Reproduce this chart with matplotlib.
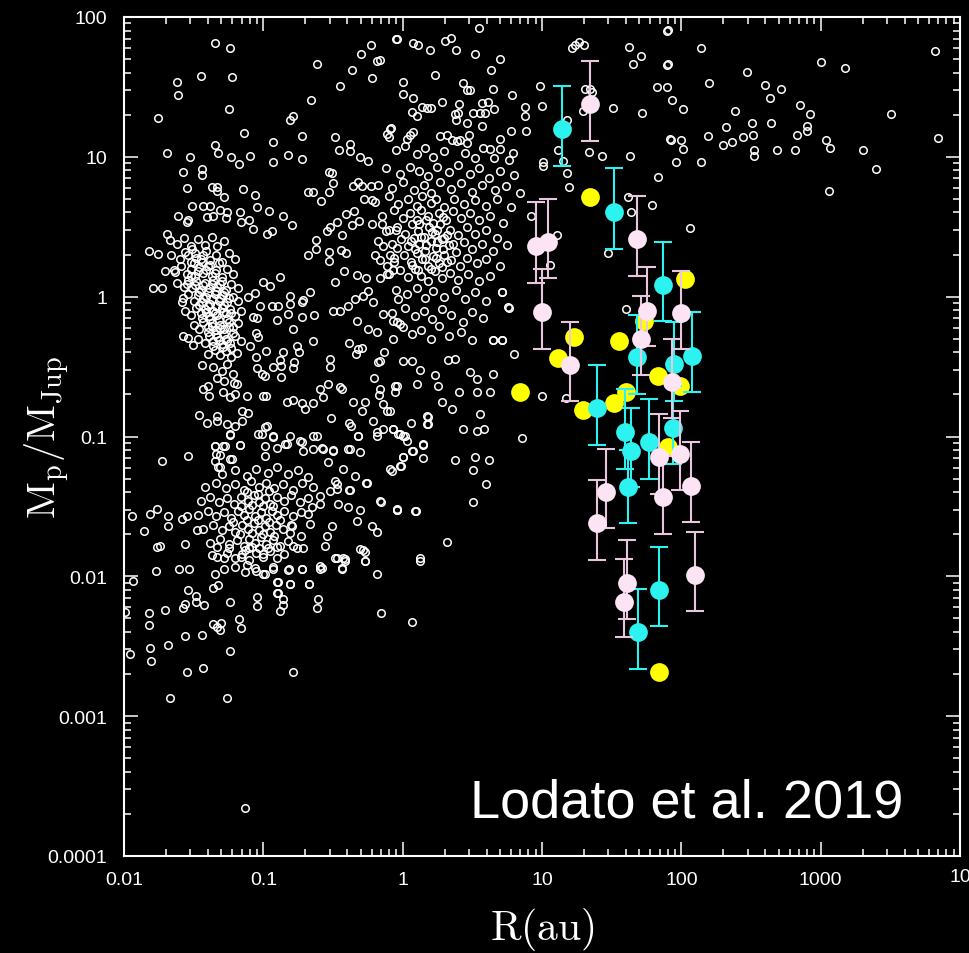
import numpy as np
import matplotlib
matplotlib.use('Agg')
import matplotlib.pyplot as plt
from matplotlib.ticker import LogLocator, NullFormatter, FixedLocator, FixedFormatter

plt.rcParams['font.family'] = ['Liberation Sans', 'DejaVu Sans']
plt.rcParams['mathtext.fontset'] = 'cm'

#%% known exoplanets, (log10 R/au, log10 Mp/MJup)

wide_orbits = [
    (-1.347, 1.812), (-1.239, 1.778), (-1.622, 1.537), (-1.610, 1.442), (-1.45, 1.58), (-1.227, 1.571),
    (-1.246, 1.344), (-1.754, 1.275), (-1.137, 1.168), (-1.347, 1.084), (-1.328, 1.027), (-1.694, 1.027),
    (-1.526, 0.996), (-1.231, 0.996), (-1.172, 0.95), (-1.096, 1.006), (-0.933, 1.104), (-0.933, 0.963),
    (-0.823, 1.013), (-0.725, 0.982), (-0.72, 1.151), (-0.81, 1.263), (-0.79, 1.294), (-0.66, 1.408),
    (-0.615, 1.662), (-0.447, 1.506), (-0.361, 1.623), (-0.301, 1.735), (-0.229, 1.802), (-0.186, 1.687),
    (-0.165, 1.69), (-0.218, 1.566), (-0.048, 1.843), (-0.483, 1.144), (-0.455, 1.049), (-0.378, 1.092),
    (-0.378, 1.044), (-0.306, 0.999), (-0.249, 0.97), (-0.115, 1.163), (-0.1, 1.14), (-0.086, 1.204),
    (0.55, 1.921), (-0.043, 1.843), (0.076, 1.812), (0.112, 1.802), (0.196, 1.764), (0.304, 1.826),
    (0.345, 1.848), (0.383, 1.762), (0.517, 1.735), (0.699, 1.70), (0.632, 1.621), (0.232, 1.585),
    (0.0, 1.537), (0.0, 1.449), (0.072, 1.423), (0.431, 1.528), (0.46, 1.478), (0.483, 1.478),
    (0.651, 1.485), (0.783, 1.442), (0.28, 1.39), (0.404, 1.378), (0.567, 1.385), (0.615, 1.39),
    (0.658, 1.342), (0.137, 1.354), (0.173, 1.349), (0.203, 1.347), (0.065, 1.318), (0.105, 1.294),
    (0.376, 1.306), (0.4, 1.313), (0.383, 1.263), (0.46, 1.24), (0.507, 1.313), (0.555, 1.313),
    (0.591, 1.313), (0.569, 1.222), (0.878, 1.354), (0.878, 1.294), (0.885, 1.187), (0.998, 1.361),
    (0.986, 1.509), (0.775, 1.187), (0.476, 1.156), (0.411, 1.122), (0.46, 1.096), (-0.091, 1.199),
    (0.029, 1.127), (0.053, 1.156), (0.076, 1.175), (0.268, 1.151), (0.32, 1.156), (0.352, 1.122),
    (0.388, 1.115), (0.699, 1.127), (0.627, 1.056), (0.699, 1.056), (0.658, 0.989), (0.794, 1.025),
    (1.237, 1.8), (1.268, 1.823), (1.304, 1.802), (1.213, 1.78), (1.309, 1.485), (1.345, 1.485),
    (1.357, 1.461), (1.297, 1.33), (1.507, 1.351), (1.622, 1.788), (1.708, 1.723), (1.651, 1.662),
    (1.895, 1.902), (1.895, 1.659), (1.823, 1.499), (1.716, 1.311), (1.177, 1.263), (1.117, 1.051),
    (1.153, 0.972), (1.177, 0.884), (1.196, 0.786), (1.005, 0.965), (1.01, 0.936), (1.34, 1.032),
    (1.431, 1.008), (1.632, 1.008), (1.83, 0.853), (1.619, 0.71), (1.637, 0.607), (1.792, 0.655),
    (1.476, 0.312), (1.058, 0.226), (1.11, 0.441), (0.919, 0.579), (1.919, 1.127),
    (1.904, 1.905), (2.139, 1.778), (1.904, 1.664), (1.9, 1.5), (2.2, 1.528), (1.933, 1.408),
    (2.01, 1.342), (2.474, 1.609), (2.601, 1.514), (2.713, 1.485), (2.636, 1.423), (2.386, 1.33),
    (2.32, 1.213), (2.505, 1.24), (2.644, 1.24), (2.852, 1.371), (2.924, 1.308), (2.9, 1.218),
    (2.905, 1.187), (3.0, 1.68), (3.175, 1.635), (1.924, 1.122), (2.0, 1.122), (2.01, 1.058),
    (2.193, 1.151), (2.301, 1.087), (2.361, 1.104), (2.44, 1.14), (2.517, 1.156), (2.522, 1.049),
    (2.522, 1.008), (2.684, 1.051), (2.816, 1.051), (2.828, 1.156), (3.036, 1.122), (3.067, 1.063),
    (3.301, 1.051), (3.397, 0.91), (3.058, 0.755), (3.505, 1.308), (3.823, 1.757), (3.84, 1.134),
    (1.962, 0.965), (2.143, 0.963), (2.06, 0.489),
]

hot_jupiters = [
    (-1.574, 0.889), (-1.442, 0.913), (-1.442, 0.872), (-1.545, 0.777), (-1.371, 0.782), (-1.335, 0.782),
    (-1.331, 0.753), (-1.282, 0.715), (-1.144, 0.77), (-1.06, 0.727), (-1.048, 0.639), (-0.959, 0.614),
    (-0.861, 0.579), (-0.792, 0.515), (-1.515, 0.65), (-1.61, 0.579), (-1.538, 0.55), (-1.55, 0.531),
    (-1.43, 0.645), (-1.383, 0.645), (-1.407, 0.567), (-1.359, 0.579), (-1.311, 0.62), (-1.263, 0.604),
    (-1.268, 0.561), (-1.167, 0.603), (-1.162, 0.536), (-1.101, 0.545), (-1.072, 0.483), (-0.976, 0.448),
    (-0.94, 0.471), (-1.694, 0.448), (-1.67, 0.405), (-1.818, 0.324), (-1.754, 0.305), (-1.706, 0.185),
    (-1.634, 0.174), (-1.79, 0.059), (-1.73, 0.059), (-1.586, -0.041),
    (-1.62, 0.38), (-1.57, 0.42), (-1.52, 0.36), (-1.47, 0.41), (-1.42, 0.37), (-1.37, 0.43), (-1.33, 0.36),
    (-1.28, 0.4), (-1.66, 0.3), (-1.6, 0.27), (-1.56, 0.32), (-1.52, 0.25), (-1.49, 0.31), (-1.45, 0.27),
    (-1.41, 0.33), (-1.38, 0.26), (-1.34, 0.3), (-1.3, 0.25), (-1.25, 0.31), (-1.2, 0.27), (-1.64, 0.19),
    (-1.59, 0.22), (-1.55, 0.16), (-1.52, 0.2), (-1.49, 0.15), (-1.46, 0.21), (-1.43, 0.17), (-1.4, 0.22),
    (-1.37, 0.15), (-1.34, 0.19), (-1.3, 0.14), (-1.26, 0.2), (-1.22, 0.16), (-1.62, 0.1), (-1.57, 0.07),
    (-1.54, 0.12), (-1.51, 0.06), (-1.48, 0.11), (-1.45, 0.05), (-1.42, 0.1), (-1.39, 0.06), (-1.36, 0.12),
    (-1.33, 0.07), (-1.3, 0.11), (-1.27, 0.05), (-1.23, 0.09), (-1.18, 0.06), (-1.58, -0.01), (-1.54, 0.02),
    (-1.5, -0.03), (-1.47, 0.01), (-1.44, -0.04), (-1.41, 0.0), (-1.38, -0.05), (-1.35, 0.02), (-1.32, -0.03),
    (-1.29, 0.01), (-1.26, -0.04), (-1.22, 0.0), (-1.18, -0.03), (-1.56, -0.1), (-1.52, -0.13), (-1.48, -0.08),
    (-1.45, -0.12), (-1.42, -0.09), (-1.39, -0.14), (-1.36, -0.1), (-1.33, -0.13), (-1.3, -0.08), (-1.27, -0.12),
    (-1.24, -0.09), (-1.2, -0.14), (-1.16, -0.1), (-1.5, -0.2), (-1.46, -0.23), (-1.43, -0.18), (-1.4, -0.22),
    (-1.37, -0.19), (-1.34, -0.24), (-1.31, -0.2), (-1.28, -0.23), (-1.25, -0.18), (-1.22, -0.22), (-1.18, -0.19),
    (-1.47, -0.3), (-1.42, -0.33), (-1.39, -0.28), (-1.36, -0.32), (-1.33, -0.29), (-1.3, -0.34), (-1.27, -0.3),
    (-1.24, -0.33), (-1.2, -0.28), (-1.16, -0.32), (-1.4, -0.41), (-1.35, -0.38), (-1.31, -0.42), (-1.27, -0.39),
    (-1.23, -0.43), (-1.19, -0.4), (-1.36, -0.5), (-1.3, -0.53), (-1.26, -0.48), (-1.22, -0.55), (-1.33, -0.58),
    (-1.28, -0.6), (-1.21, -0.62), (-1.574, -0.284), (-1.538, -0.298), (-1.503, -0.346), (-1.442, -0.489),
    (-1.43, -0.661), (-1.388, -0.709), (-1.395, -0.637), (-1.287, -0.685), (-1.239, -0.72), (-1.203, -0.697),
    (-1.191, -0.625), (-1.119, -0.713),
]

# the white blob of hot Jupiters, where circles pile on each other
hot_jupiter_core = [
    (-1.5, 0.24), (-1.47, 0.18), (-1.44, 0.25), (-1.41, 0.19), (-1.38, 0.23), (-1.35, 0.17), (-1.32, 0.24),
    (-1.49, 0.08), (-1.46, 0.03), (-1.43, 0.08), (-1.4, 0.03), (-1.37, 0.09), (-1.34, 0.04), (-1.31, 0.09),
    (-1.28, 0.03), (-1.46, -0.06), (-1.43, -0.01), (-1.4, -0.07), (-1.37, -0.02), (-1.34, -0.07), (-1.31, -0.01),
    (-1.28, -0.06), (-1.25, -0.01), (-1.44, -0.15), (-1.41, -0.11), (-1.38, -0.16), (-1.35, -0.12), (-1.32, -0.17),
    (-1.29, -0.11), (-1.26, -0.16), (-1.23, -0.12), (-1.4, -0.25), (-1.37, -0.21), (-1.34, -0.27), (-1.31, -0.23),
    (-1.28, -0.27), (-1.25, -0.22), (-1.22, -0.26), (-1.36, -0.35), (-1.32, -0.31), (-1.29, -0.36), (-1.26, -0.32),
    (-1.23, -0.37), (-1.54, 0.3), (-1.51, 0.34), (-1.48, 0.28), (-1.43, 0.3), (-1.55, 0.09), (-1.52, 0.15),
]

intermediate = [
    (-0.88, 0.138), (-1.0, 0.102), (-0.682, 0.297), (-0.624, 0.407), (-0.624, 0.34), (-0.529, 0.317),
    (-0.529, 0.257), (-0.545, 0.471), (-0.522, 0.496), (-0.473, 0.531), (-0.433, 0.441), (-0.409, 0.591),
    (-0.349, 0.61), (-0.443, 0.335), (-0.409, 0.309), (-0.311, 0.543), (-0.364, 0.512), (-0.356, 0.79),
    (-0.32, 0.82), (-0.29, 0.79), (-0.23, 0.79), (-0.28, 0.7), (-0.22, 0.69), (-0.527, 0.889), (-0.51, 0.884),
    (-0.498, 0.81), (-0.527, 0.746), (-0.586, 0.682), (-0.677, 0.746), (-0.641, 0.746), (-0.419, 0.181),
    (-0.33, 0.157), (-0.263, 0.131), (-0.163, 0.131), (-0.115, 0.162), (-0.072, 0.192), (-0.486, 0.102),
    (-0.22, 0.52), (-0.15, 0.52), (-0.1, 0.48), (-0.05, 0.48), (-0.18, 0.4), (-0.14, 0.36), (-0.09, 0.3),
    (-0.16, 0.26), (-0.11, 0.22), (-0.2, 0.3), (-0.04, 0.35), (-0.06, 0.25),
    (-1.462, -0.847), (-1.402, -0.906), (-1.335, -0.852), (-1.335, -0.888), (-1.263, -0.911), (-1.203, -0.923),
    (-1.155, -0.888), (-1.108, -0.835), (-1.239, -0.983), (-1.155, -0.816), (-1.048, -0.513), (-1.012, -0.553),
    (-0.988, -0.57), (-1.0, -0.709), (-0.981, -0.713), (-1.053, -0.43), (-0.983, -0.387), (-0.933, -0.501),
    (-0.871, -0.499), (-0.88, -0.454), (-0.857, -0.394), (-0.873, -0.577), (-0.79, -0.513), (-0.78, -0.466),
    (-0.76, -0.351), (-0.744, -0.394), (-1.096, -0.351), (-1.053, -0.26), (-1.036, -0.291), (-0.641, -0.315),
    (-1.024, -0.065), (-0.94, -0.065), (-0.892, -0.065), (-0.809, -0.053), (-0.809, 0.006), (-0.725, -0.036),
    (-0.713, -0.022), (-0.665, 0.031), (-1.108, -0.005), (-1.06, 0.026), (-0.952, 0.078), (-0.904, -0.165),
    (-0.821, -0.124), (-0.785, -0.232), (-0.725, -0.144), (-0.634, -0.132), (-1.072, -0.148), (-1.048, -0.155),
    (-0.498, -0.101), (-0.45, -0.105), (-0.39, -0.065), (-0.33, -0.172), (-0.342, -0.017), (-0.282, 0.006),
    (-0.247, 0.042), (-0.211, -0.041), (-0.139, -0.124), (-0.247, -0.232), (-0.186, -0.256), (-0.067, -0.303),
    (-0.043, -0.184), (-0.031, -0.017), (-0.383, -0.332), (-0.318, -0.375), (-0.294, -0.37), (-0.335, -0.411),
    (-0.163, -0.458), (-0.175, -0.47), (-0.132, -0.398), (-0.522, -0.446), (-0.522, -0.506), (-0.45, -0.649),
    (-0.438, -0.661), (-0.206, -0.585), (-0.163, -0.661), (-0.055, -0.637), (-0.168, -0.704), (-0.139, -0.768),
    (-0.115, -0.816), (-0.055, -0.685), (-0.832, -0.756), (-0.785, -0.738), (-0.725, -0.761), (-0.701, -0.804),
    (-0.641, -0.761), (-0.57, -0.72), (-0.593, -0.661), (-0.534, -0.625), (-0.359, -0.756), (-0.27, -0.756),
    (-0.294, -0.816), (-0.514, -0.871), (-0.383, -0.904), (-0.373, -0.928), (-0.318, -0.995), (-0.215, -0.888),
    (-0.186, -0.995), (-0.139, -0.947), (-0.067, -0.947), (-0.031, -0.983),
]

cold_giants = [
    (-0.05, 1.05), (0.02, 1.08), (0.1, 1.02), (0.16, 1.06), (0.22, 1.0), (0.3, 1.04), (0.45, 1.03), (0.52, 0.99),
    (0.58, 1.06), (0.76, 0.98), (-0.12, 0.92), (-0.02, 0.88), (0.05, 0.93), (0.12, 0.9), (0.18, 0.86), (0.25, 0.93),
    (0.33, 0.89), (0.4, 0.94), (0.48, 0.88), (0.55, 0.92), (0.62, 0.85), (0.7, 0.9), (0.8, 0.87), (-0.18, 0.8),
    (-0.08, 0.78), (0.0, 0.82), (0.08, 0.76), (0.15, 0.8), (0.2, 0.74), (0.27, 0.82), (0.35, 0.77), (0.42, 0.81),
    (0.5, 0.75), (0.57, 0.8), (0.66, 0.76), (0.74, 0.79), (0.84, 0.74), (-0.2, 0.68), (-0.1, 0.72), (-0.03, 0.66),
    (0.04, 0.7), (0.1, 0.65), (0.14, 0.72), (0.2, 0.67), (0.24, 0.7), (0.3, 0.64), (0.37, 0.7), (0.44, 0.66),
    (0.52, 0.69), (0.6, 0.65), (0.68, 0.7), (0.78, 0.64), (-0.15, 0.58), (-0.06, 0.62), (0.0, 0.56), (0.05, 0.6),
    (0.1, 0.55), (0.13, 0.62), (0.18, 0.58), (0.22, 0.53), (0.26, 0.6), (0.31, 0.55), (0.36, 0.61), (0.42, 0.56),
    (0.48, 0.6), (0.55, 0.55), (0.63, 0.58), (0.72, 0.53), (-0.12, 0.47), (-0.04, 0.5), (0.02, 0.45), (0.07, 0.52),
    (0.11, 0.47), (0.15, 0.43), (0.19, 0.5), (0.23, 0.45), (0.27, 0.52), (0.3, 0.42), (0.34, 0.48), (0.4, 0.44),
    (0.46, 0.5), (0.52, 0.45), (0.6, 0.48), (0.68, 0.42), (-0.08, 0.38), (-0.01, 0.41), (0.04, 0.36), (0.08, 0.42),
    (0.12, 0.38), (0.16, 0.33), (0.2, 0.4), (0.24, 0.35), (0.28, 0.41), (0.33, 0.37), (0.38, 0.32), (0.44, 0.39),
    (0.5, 0.34), (0.57, 0.38), (0.65, 0.33), (0.75, 0.37), (-0.06, 0.28), (0.01, 0.3), (0.06, 0.25), (0.1, 0.31),
    (0.14, 0.27), (0.18, 0.22), (0.22, 0.29), (0.26, 0.24), (0.3, 0.3), (0.35, 0.26), (0.41, 0.22), (0.46, 0.28),
    (0.53, 0.24), (0.6, 0.27), (0.7, 0.22), (-0.1, 0.16), (-0.02, 0.19), (0.04, 0.14), (0.09, 0.2), (0.13, 0.15),
    (0.18, 0.11), (0.23, 0.18), (0.28, 0.13), (0.34, 0.17), (0.4, 0.12), (0.47, 0.16), (0.55, 0.11), (0.63, 0.15),
    (-0.05, 0.05), (0.03, 0.02), (0.1, 0.06), (0.16, -0.01), (0.22, 0.04), (0.3, 0.0), (0.38, 0.05), (0.45, -0.02),
    (0.52, 0.03), (0.6, -0.03), (0.71, 0.035), (0.76, -0.08), (-0.08, -0.12), (0.02, -0.08), (0.09, -0.14),
    (0.15, -0.1), (0.21, -0.16), (0.28, -0.09), (0.35, -0.13), (0.43, -0.18), (0.5, -0.11), (0.58, -0.15),
    (0.0, -0.22), (0.07, -0.27), (0.13, -0.24), (0.2, -0.3), (0.26, -0.21), (0.33, -0.28), (0.42, -0.25),
    (0.5, -0.31), (0.65, -0.31), (0.71, -0.31),
    (0.06, 0.4), (0.09, 0.34), (0.13, 0.43), (0.17, 0.37), (0.21, 0.46), (0.25, 0.39), (0.29, 0.34),
    (0.32, 0.44), (0.36, 0.38), (0.07, 0.23), (0.11, 0.19), (0.16, 0.27), (0.2, 0.2), (0.24, 0.28),
    (0.28, 0.21), (0.32, 0.25), (0.12, 0.52), (0.17, 0.55), (0.25, 0.48), (0.29, 0.57),
    (0.801, -0.411), (0.998, -0.709), (0.855, -1.014), (1.172, -0.728), (1.603, -0.089), (0.431, -0.947),
    (0.536, -0.959), (0.584, -0.947), (0.555, -0.84), (0.376, -1.169), (0.519, -1.145), (0.622, -1.169),
    (0.503, -1.238), (0.598, -1.338), (0.503, -1.471), (0.32, -1.757), (-0.039, -1.524), (0.094, -1.534),
    (0.124, -1.872), (0.06, -0.904), (0.184, -0.864), (0.184, -0.911), (0.017, -0.995), (-0.019, -0.983),
    (0.148, -1.059), (0.072, -1.102), (0.148, -1.156), (0.004, -1.145), (-0.012, -1.21), (-0.079, -1.245),
    (-0.091, -0.816), (-0.067, -0.947), (0.407, -0.685), (0.256, -0.637), (-0.043, -0.637), (0.1, -0.625),
    (0.232, -0.559), (0.327, -0.454), (0.376, -0.446), (0.483, -0.542), (0.531, -0.589), (0.651, -0.553),
    (0.627, -0.685), (0.531, -0.685), (0.28, -0.756), (0.352, -0.804), (0.173, -0.852), (0.065, -0.458),
    (0.124, -0.522), (0.004, -0.458), (-0.067, -0.172), (-0.019, -0.196), (0.758, -0.077), (0.711, 0.035),
    (0.651, -0.308), (0.711, -0.308),
]

super_earths = [
    (-1.725, -1.174), (-1.543, -1.142), (-1.94, -1.567), (-1.854, -1.675), (-1.813, -1.555), (-1.765, -1.519),
    (-1.682, -1.572), (-1.682, -1.643), (-1.586, -1.591), (-1.55, -1.572), (-1.474, -1.667), (-1.562, -1.769),
    (-1.765, -1.793), (-1.742, -1.782), (-1.239, -0.99), (-1.167, -1.062), (-1.347, -1.067), (-1.287, -1.067),
    (-1.311, -1.133), (-1.347, -1.174), (-1.323, -1.217), (-1.239, -1.162),
    (-1.036, -0.983), (-0.976, -0.923), (-0.928, -1.002), (-0.832, -1.054), (-0.725, -1.038), (-0.641, -0.995),
    (-0.57, -1.09), (-0.498, -1.095), (-0.378, -1.09), (-0.318, -0.995), (-0.258, -1.329), (-0.378, -1.384),
    (-0.473, -1.341), (-0.163, -1.46), (-0.043, -1.519),
    (-0.581, -1.937), (-0.593, -1.925), (-0.473, -1.872), (-0.426, -1.872), (-0.414, -1.889), (-0.438, -1.944),
    (-0.282, -1.813), (-0.27, -1.889), (-0.27, -1.829), (-0.306, -1.806), (-0.673, -2.056), (-0.809, -2.056),
    (-0.892, -2.116), (-0.904, -2.044), (-0.821, -1.956), (-0.725, -1.948), (-0.557, -1.782), (-0.545, -1.71),
    (-0.509, -1.643), (-0.713, -1.8), (-0.785, -1.782), (-0.76, -1.8), (-0.665, -1.627), (-0.732, -1.715),
    (-0.796, -1.641), (-0.809, -1.688), (-0.677, -1.555), (-0.653, -1.507), (-0.593, -1.484), (-0.593, -1.428),
    (-0.462, -1.484), (-0.39, -1.507), (-0.306, -1.524), (-0.33, -1.603), (-0.222, -1.639), (-0.182, -1.682),
    (-0.043, -1.524), (0.088, -1.532), (-0.158, -1.465), (-0.383, -1.382), (-0.473, -1.376), (-0.522, -1.388),
    (-0.486, -1.317), (-0.426, -1.233), (-0.264, -1.329), (-0.34, -1.286), (-0.306, -1.114), (-0.39, -1.09),
    (-0.534, -1.185), (-0.498, -1.102), (-0.581, -1.085), (-0.641, -1.09), (-0.713, -1.102), (-0.737, -1.031),
    (-0.617, -0.995), (-0.809, -0.995), (-0.844, -1.054), (-0.904, -1.085), (-0.988, -1.138), (-0.988, -1.066),
    (-0.928, -0.995), (-1.012, -0.983), (-0.988, -0.935), (-1.167, -1.062), (-1.275, -1.071), (-1.347, -1.067),
    (-1.34, -1.126), (-1.227, -1.162), (-1.311, -1.221), (-0.186, -0.971), (0.005, -0.995), (0.029, -1.031),
    (0.065, -1.102), (0.005, -1.15), (-0.019, -1.21), (-0.091, -1.233), (0.148, -1.054), (0.173, -0.911),
    (-1.3, -1.27), (-1.2, -1.24), (-1.12, -1.28), (-1.05, -1.23), (-0.97, -1.26), (-0.9, -1.22), (-0.82, -1.27),
    (-0.75, -1.24), (-0.68, -1.29), (-1.42, -1.36), (-1.34, -1.33), (-1.27, -1.37), (-1.2, -1.34), (-1.14, -1.38),
    (-1.09, -1.32), (-1.03, -1.36), (-0.98, -1.33), (-0.92, -1.37), (-0.86, -1.34), (-0.79, -1.38), (-0.72, -1.33),
    (-0.64, -1.36), (-1.45, -1.46), (-1.38, -1.43), (-1.32, -1.47), (-1.26, -1.44), (-1.21, -1.48), (-1.16, -1.43),
    (-1.11, -1.46), (-1.07, -1.42), (-1.03, -1.47), (-0.99, -1.44), (-0.95, -1.48), (-0.9, -1.43), (-0.85, -1.46),
    (-0.8, -1.42), (-0.74, -1.47), (-0.68, -1.44), (-1.47, -1.56), (-1.4, -1.53), (-1.34, -1.57), (-1.28, -1.54),
    (-1.23, -1.58), (-1.18, -1.53), (-1.14, -1.56), (-1.1, -1.52), (-1.06, -1.57), (-1.02, -1.54), (-0.98, -1.58),
    (-0.94, -1.53), (-0.9, -1.56), (-0.85, -1.53), (-0.79, -1.57), (-0.73, -1.54), (-1.43, -1.66), (-1.36, -1.63),
    (-1.3, -1.67), (-1.25, -1.64), (-1.2, -1.68), (-1.15, -1.63), (-1.11, -1.66), (-1.07, -1.62), (-1.03, -1.67),
    (-0.99, -1.64), (-0.95, -1.68), (-0.91, -1.63), (-0.86, -1.66), (-0.8, -1.63), (-1.38, -1.76), (-1.31, -1.73),
    (-1.25, -1.77), (-1.19, -1.74), (-1.14, -1.78), (-1.1, -1.73), (-1.06, -1.76), (-1.02, -1.72), (-0.98, -1.77),
    (-0.93, -1.74), (-0.88, -1.78), (-0.82, -1.75), (-1.33, -1.86), (-1.26, -1.83), (-1.2, -1.87), (-1.15, -1.84),
    (-1.1, -1.88), (-1.05, -1.83), (-1.0, -1.86), (-0.95, -1.82), (-0.9, -1.87), (-0.85, -1.84), (-1.28, -1.95),
    (-1.2, -1.93), (-1.13, -1.97), (-1.06, -1.94), (-0.99, -1.98), (-0.93, -1.95),
    (-1.12, -1.4), (-1.08, -1.49), (-1.04, -1.41), (-1.0, -1.5), (-0.96, -1.39), (-1.12, -1.6), (-1.08, -1.69),
    (-1.04, -1.6), (-1.0, -1.7), (-0.96, -1.61), (-0.92, -1.71), (-1.16, -1.5), (-1.17, -1.7), (-1.13, -1.81),
    (-1.08, -1.79), (-1.03, -1.8), (-0.97, -1.8), (-1.22, -1.61), (-0.93, -1.5), (-0.88, -1.6),
    (-1.772, -1.965), (-1.938, -2.032), (-1.603, -1.948), (-1.531, -1.944), (-1.347, -1.984), (-1.323, -2.063),
    (-1.359, -2.087), (-1.538, -2.097), (-1.483, -2.144), (-1.483, -2.182), (-1.426, -2.206), (-1.562, -2.199),
    (-1.574, -2.23), (-1.706, -2.24), (-1.818, -2.265), (-1.818, -2.349), (-1.993, -2.254), (-1.239, -2.187),
    (-1.175, -2.306), (-1.162, -2.373), (-1.359, -2.342), (-1.335, -2.359), (-1.311, -2.383), (-1.304, -2.335),
    (-1.562, -2.43), (-1.438, -2.416), (-1.813, -2.509), (-1.682, -2.494), (-1.957, -2.552), (-1.808, -2.605),
    (-1.239, -2.537), (-1.55, -2.683), (-1.431, -2.659), (-0.785, -2.683), (-1.67, -2.871), (-1.263, -2.871),
    (-1.132, -3.66), (-0.897, -2.039), (-0.809, -2.056), (-0.673, -2.056), (-0.904, -2.12), (-0.857, -2.163),
    (-0.857, -2.206), (-0.88, -2.246), (-1.043, -2.146), (-1.043, -2.21), (-0.605, -2.163), (-0.617, -2.223),
    (-0.593, -1.949), (-0.725, -1.944), (-0.813, -1.949), (-0.483, -1.872), (-0.414, -1.876), (-0.438, -1.94),
    (-0.27, -1.893), (-0.182, -1.986), (-0.155, -2.265), (0.065, -2.33), (0.125, -1.891),
    (-1.365, -1.85), (-1.33, -1.79), (-1.28, -1.87), (-1.25, -1.8), (-1.16, -1.86), (-1.12, -1.92),
    (-1.05, -1.96), (-1.0, -1.98), (-0.93, -1.93), (-1.1, -1.8), (-1.0, -1.84), (-0.9, -1.79),
]

#%% planet candidates in discs: R (au), Mp (MJup), lower and upper limits

cyan_R = [13.85, 33.0, 73.5, 48.3, 88.5, 118.7, 24.7, 39.4, 43.3, 41.2, 58.6, 86.7, 69.2, 49.1]
cyan_M = [15.8, 4.05, 1.22, 0.368, 0.33, 0.378, 0.159, 0.107, 0.079, 0.0432, 0.0907, 0.115, 0.00796, 0.00397]
cyan_lo = [8.6, 2.21, 0.673, 0.2, 0.178, 0.207, 0.0873, 0.059, 0.0432, 0.0239, 0.05, 0.0635, 0.00438, 0.00219]
cyan_hi = [32.3, 8.27, 2.48, 0.743, 0.661, 0.772, 0.323, 0.217, 0.161, 0.08, 0.185, 0.23, 0.0161, 0.0081]

pink_R = [22.1, 9.06, 11.0, 47.8, 10.05, 56.7, 98.9, 51.1, 16.0, 86.1,
          69.2, 97.8, 116.7, 73.9, 28.8, 24.9, 40.9, 39.0, 125.3]
pink_M = [23.9, 2.31, 2.44, 2.58, 0.772, 0.79, 0.76, 0.498, 0.324, 0.244,
          0.0709, 0.0748, 0.0444, 0.0367, 0.0398, 0.024, 0.00894, 0.0066, 0.01026]
pink_lo = [13.0, 1.26, 1.35, 1.41, 0.42, 0.445, 0.42, 0.275, 0.178, 0.135,
           0.0387, 0.0414, 0.0243, 0.02, 0.0221, 0.0131, 0.00494, 0.00366, 0.00566]
pink_hi = [48.4, 4.72, 4.99, 5.27, 1.57, 1.64, 1.53, 1.016, 0.655, 0.498,
           0.145, 0.153, 0.0907, 0.072, 0.0813, 0.049, 0.0182, 0.0134, 0.0208]

yellow_R = [22.1, 106, 54, 35.9, 17.0, 13.1, 68.4, 97.8, 6.95, 19.8, 33.0, 40.1, 80.7, 69.2]
yellow_M = [5.13, 1.34, 0.673, 0.484, 0.516, 0.362, 0.269, 0.228, 0.207, 0.155, 0.175, 0.207, 0.0836, 0.00207]

xticks = [0.01, 0.1, 1, 10, 100, 1000]
xticklabels = ['0.01', '0.1', '1', '10', '100', '1000']
yticks = [1e-4, 1e-3, 1e-2, 1e-1, 1, 10, 100]
yticklabels = ['0.0001', '0.001', '0.01', '0.1', '1', '10', '100']

#%%

fig = plt.figure(figsize=(9.69, 9.54), dpi=100, facecolor='black')
ax = fig.add_axes([124/969, 97/954, 836/969, 839/954], facecolor='black')

white = np.array(wide_orbits + hot_jupiters + hot_jupiter_core + intermediate + cold_giants + super_earths)
ax.plot(10**white[:, 0], 10**white[:, 1], 'o', ls='none', ms=5.4, mfc='none',
        mec='white', mew=1.1, zorder=2)

ax.plot(yellow_R, yellow_M, 'o', ls='none', ms=13.5, color='#ffff00', mec='none', zorder=3)

def with_errors(R, M, lo, hi, face, bar, z):
    M = np.array(M)
    yerr = [M - np.array(lo), np.array(hi) - M]
    ax.errorbar(R, M, yerr=yerr, fmt='o', ms=13.5, mfc=face, mec='none',
                ecolor=bar, elinewidth=1.5, capsize=6.8, capthick=1.5, zorder=z)

with_errors(cyan_R, cyan_M, cyan_lo, cyan_hi, '#2cf3f0', '#2cf3f0', 4)
with_errors(pink_R, pink_M, pink_lo, pink_hi, '#fde4f5', '#e8c6de', 5)

ax.set_xscale('log')
ax.set_yscale('log')
ax.set_xlim(0.01, 1e4)
ax.set_ylim(1e-4, 100)

ax.xaxis.set_major_locator(FixedLocator(xticks + [1e4]))
ax.xaxis.set_major_formatter(FixedFormatter(xticklabels + ['']))
ax.yaxis.set_major_locator(FixedLocator(yticks))
ax.yaxis.set_major_formatter(FixedFormatter(yticklabels))
for axis in (ax.xaxis, ax.yaxis):
    axis.set_minor_locator(LogLocator(base=10, subs=np.arange(2, 10), numticks=20))
    axis.set_minor_formatter(NullFormatter())

ax.tick_params(which='both', direction='in', top=True, right=True, colors='white',
               labelcolor='white', width=1.1, labelsize=14)
ax.tick_params(which='major', length=10)
ax.tick_params(which='minor', length=5)
ax.tick_params(axis='x', pad=11)
ax.tick_params(axis='y', pad=12)
for s in ax.spines.values():
    s.set_color('white')
    s.set_linewidth(1.5)

# the 10^4 label, cut by the figure edge
ax.text(1e4, -0.024, '10', transform=ax.get_xaxis_transform(), ha='center', va='center',
        color='white', fontsize=14, clip_on=False)

ax.set_xlabel(r'$\mathrm{R(au)}$', color='white', fontsize=30)
ax.xaxis.set_label_coords(0.5, -0.058)
ax.set_ylabel(r'$\mathrm{M_p/M_{Jup}}$', color='white', fontsize=29)
ax.yaxis.set_label_coords(-0.063, 0.5)

ax.text(0.414, 0.0465, 'Lodato et al. 2019', transform=ax.transAxes, color='white',
        fontsize=39, ha='left', va='baseline')

fig.savefig('out.png', dpi=100, facecolor='black')
